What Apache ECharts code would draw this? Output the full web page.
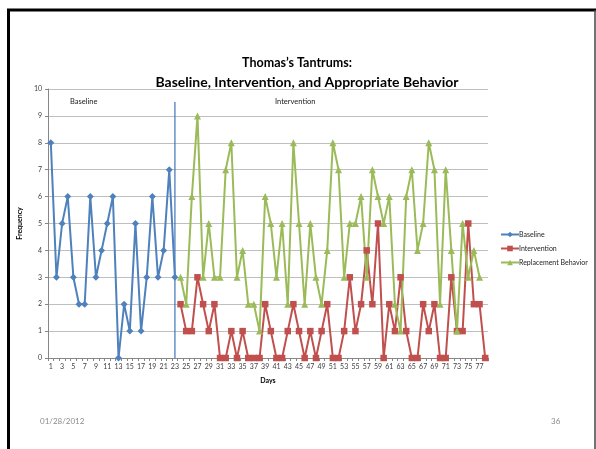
<!DOCTYPE html>
<html>
<head>
<meta charset="utf-8">
<script src="https://cdn.jsdelivr.net/npm/echarts@6/dist/echarts.min.js"></script>
<style>
  html, body { margin: 0; padding: 0; background: #fff; }
  #chart { width: 596px; height: 449px; }
</style>
</head>
<body>
<div id="chart"></div>
<script>
var days = ['1','2','3','4','5','6','7','8','9','10','11','12','13','14','15','16','17','18','19','20',
  '21','22','23','24','25','26','27','28','29','30','31','32','33','34','35','36','37','38','39','40',
  '41','42','43','44','45','46','47','48','49','50','51','52','53','54','55','56','57','58','59','60',
  '61','62','63','64','65','66','67','68','69','70','71','72','73','74','75','76','77','78'];

// Baseline: days 1-23
var baseline = [8,3,5,6,3,2,2,6,3,4,5,6,0,2,1,5,1,3,6,3,4,7,3];
// Intervention: days 24-78
var intervention = [2,1,1,3,2,1,2,0,0,1,0,1,0,0,0,2,1,0,0,1,2,1,0,1,0,1,2,0,0,1,3,1,2,4,2,5,
  0,2,1,3,1,0,0,2,1,2,0,0,3,1,1,5,2,2,0];
// Replacement behavior: days 24-77
var replacement = [3,2,6,9,3,5,3,3,7,8,3,4,2,2,1,6,5,3,5,2,8,5,2,5,3,2,4,8,7,3,5,5,6,3,7,6,
  5,6,2,1,6,7,4,5,8,7,2,7,4,1,5,3,4,3];

var yTicks = [0,1,2,3,4,5,6,7,8,9,10];
var phaseDay = '23';          // phase-change line drawn at this day
var phaseLineTop = 9.52;      // top of the phase-change line
var phaseStart = 23;          // index where intervention begins

function pad(arr, start) {
  var out = [];
  for (var i = 0; i < start; i++) out.push(null);
  return out.concat(arr);
}

var FONT = 'Lato';

var chart = echarts.init(document.getElementById('chart'));
chart.setOption({
  animation: false,
  backgroundColor: '#fff',
  title: [
    { text: 'Thomas\u2019s Tantrums:', left: 292, top: 51, textAlign: 'center',
      textStyle: { fontFamily: FONT, fontWeight: 'bold', fontSize: 12.5, color: '#000' } },
    { text: 'Baseline, Intervention, and Appropriate Behavior', left: 302, top: 70, textAlign: 'center',
      textStyle: { fontFamily: FONT, fontWeight: 'bold', fontSize: 14, color: '#000' } }
  ],
  legend: {
    orient: 'vertical',
    left: 495,
    top: 226,
    itemWidth: 18,
    itemHeight: 7,
    itemGap: 7,
    textStyle: { fontFamily: FONT, fontSize: 7, color: '#222', padding: [0,0,0,-5] },
    data: ['Baseline', 'Intervention', 'Replacement Behavior']
  },
  grid: { left: 48, right: 108, top: 89, bottom: 91 },
  xAxis: {
    type: 'category',
    data: days,
    boundaryGap: true,
    name: 'Days',
    nameLocation: 'middle',
    nameGap: 19,
    nameTextStyle: { fontFamily: FONT, fontWeight: 'bold', fontSize: 7, color: '#000' },
    axisLine: { lineStyle: { color: '#868686', width: 1 } },
    axisTick: { show: true, interval: 0, length: 3, lineStyle: { color: '#868686' } },
    axisLabel: { interval: 1, fontFamily: FONT, fontSize: 7, color: '#404040', margin: 5 },
    splitLine: { show: false }
  },
  yAxis: {
    type: 'value',
    min: 0, max: 10, interval: 1,
    name: 'Frequency',
    nameLocation: 'middle',
    nameGap: 22,
    nameTextStyle: { fontFamily: FONT, fontWeight: 'bold', fontSize: 7, color: '#000' },
    axisLine: { show: true, lineStyle: { color: '#868686', width: 1 } },
    axisTick: { show: true, length: 3, lineStyle: { color: '#868686' } },
    axisLabel: { fontFamily: FONT, fontSize: 7, color: '#404040', margin: 6,
      formatter: function (v) { return yTicks.indexOf(v) >= 0 ? String(v) : ''; } },
    splitLine: { lineStyle: { color: '#BFBFBF', width: 1 } }
  },
  series: [
    {
      name: 'phase', type: 'line', data: [[phaseDay, 0], [phaseDay, phaseLineTop]],
      symbol: 'none', silent: true, z: 1,
      lineStyle: { color: '#3F73B5', width: 1.2 },
      emphasis: { disabled: true }, tooltip: { show: false }
    },
    {
      name: 'Baseline', type: 'line', data: baseline,
      symbol: 'diamond', symbolSize: 7, showAllSymbol: true,
      itemStyle: { color: '#4F81BD' },
      lineStyle: { color: '#4F81BD', width: 2 }
    },
    {
      name: 'Intervention', type: 'line', data: pad(intervention, phaseStart),
      symbol: 'rect', symbolSize: 6.5, showAllSymbol: true,
      itemStyle: { color: '#C0504D' },
      lineStyle: { color: '#C0504D', width: 2 }
    },
    {
      name: 'Replacement Behavior', type: 'line', data: pad(replacement, phaseStart),
      symbol: 'triangle', symbolSize: 7, showAllSymbol: true,
      itemStyle: { color: '#9BBB59' },
      lineStyle: { color: '#9BBB59', width: 2 }
    }
  ],
  graphic: [
    { type: 'line', shape: { x1: 8.5, y1: 9.5, x2: 8.5, y2: 449 }, style: { stroke: '#000', lineWidth: 3 } },
    { type: 'line', shape: { x1: 7, y1: 10, x2: 596, y2: 10 }, style: { stroke: '#000', lineWidth: 3 } },
    { type: 'line', shape: { x1: 595, y1: 10, x2: 595, y2: 449 }, style: { stroke: '#444', lineWidth: 1.5 } },
    { type: 'text', left: 70, top: 98, style: { text: 'Baseline', fontFamily: FONT, fontSize: 7.5, fill: '#222' } },
    { type: 'text', left: 275, top: 98, style: { text: 'Intervention', fontFamily: FONT, fontSize: 7.5, fill: '#222' } },
    { type: 'text', left: 40, top: 417, style: { text: '01/28/2012', fontFamily: FONT, fontSize: 8, fill: '#8B8B8B' } },
    { type: 'text', left: 551, top: 417, style: { text: '36', fontFamily: FONT, fontSize: 8, fill: '#8B8B8B' } }
  ]
});
</script>
</body>
</html>
